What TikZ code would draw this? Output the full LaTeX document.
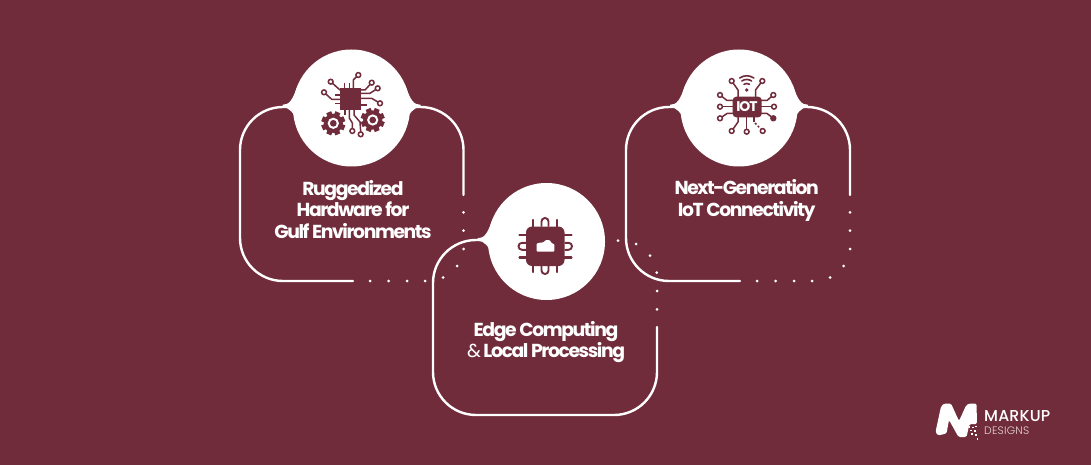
\documentclass[tikz,border=0pt]{standalone}
\usepackage{fontspec}
\setmainfont{Poppins}[LetterSpace=-7.5]
\newfontfamily\logofont{Poppins Medium}[LetterSpace=1]
\newfontfamily\logosmall{Poppins Light}[LetterSpace=2]
\definecolor{wine}{HTML}{702C3A}
\definecolor{pinkish}{HTML}{E8D5D9}
\tikzset{
  cardline/.style={draw=white,line width=2.4pt,line cap=round},
  label/.style={text=white,align=center,font=\bfseries\fontsize{18.8}{21.5}\selectfont,inner sep=0pt},
  trace/.style={draw=wine,line width=1.5pt,line join=round},
  pad/.style={draw=wine,line width=1.5pt,fill=white},
  pinline/.style={draw=wine,line width=2.2pt,line cap=round},
  looppin/.style={draw=wine,line width=1.9pt},
  wifi/.style={draw=wine,line width=1.6pt,line cap=round},
}
\newcommand{\leftfillet}[2]{%
  \fill[white] (#1-69,#2-3.2) .. controls (#1-62,#2-3.2) and (#1-59,#2-8) .. (#1-54,#2-22)
     -- (#1-54,#2+14) .. controls (#1-58,#2+5) and (#1-62,#2-0.8) .. (#1-69,#2-0.8) -- cycle;}
\newcommand{\rightfillet}[2]{%
  \fill[white] (#1+69,#2-3.2) .. controls (#1+62,#2-3.2) and (#1+59,#2-8) .. (#1+54,#2-22)
     -- (#1+54,#2+14) .. controls (#1+58,#2+5) and (#1+62,#2-0.8) .. (#1+69,#2-0.8) -- cycle;}
\newcommand{\dotsat}[1]{\foreach \px/\py in {#1} {\fill[white] (\px,\py) circle (1.5);}}
\newcommand{\gear}[3]{%
  \fill[wine] (#1,#2) circle ({#3*0.8});
  \foreach \a in {0,45,...,315}{
    \fill[wine,shift={(#1,#2)},rotate=\a+22.5] ({-#3*0.22},0) rectangle ({#3*0.22},#3);}
  \fill[white] (#1,#2) circle ({#3*0.47});
  \fill[wine] (#1,#2) circle ({#3*0.28});
  }
\begin{document}
\begin{tikzpicture}[x=1pt,y=-1pt]
\useasboundingbox (0,0) rectangle (1091,465);
\fill[wine] (0,0) rectangle (1091,465);

% left card
\draw[cardline] (463.5,195) -- (463.5,150) arc[start angle=0,end angle=-90,radius=43] -- (352,107);
\draw[cardline] (352,107) -- (283,107) arc[start angle=-90,end angle=-180,radius=43] -- (240,238)
   arc[start angle=180,end angle=90,radius=43] -- (353,281);
\dotsat{370/281, 388.5/281, 407/281, 425/281, 443/277.5, 457/266, 463.5/249, 463.5/230.7, 463.5/212.3}
\leftfillet{351.5}{108}\rightfillet{351.5}{108}
\fill[white] (351.5,108) circle (58.5);

% right card
\draw[cardline] (850,195) -- (850,150) arc[start angle=0,end angle=-90,radius=43] -- (739,107);
\draw[cardline] (739,107) -- (669,107) arc[start angle=-90,end angle=-180,radius=43] -- (626,238)
   arc[start angle=180,end angle=90,radius=43] -- (740,281);
\dotsat{757/281, 775.5/281, 794/281, 812/281, 830/277.5, 843.5/266, 850/249, 850/230.7, 850/212.3}
\leftfillet{739}{108}\rightfillet{739}{108}
\fill[white] (739,108) circle (58.5);

% middle card
\draw[cardline] (546,240) -- (476,240) arc[start angle=-90,end angle=-180,radius=43] -- (433,372)
   arc[start angle=180,end angle=90,radius=43] -- (614,415) arc[start angle=90,end angle=0,radius=43] -- (657,327);
\dotsat{657/309.3, 657/291, 656.7/272.7, 650/255.7, 636/244, 618/240.7}
\leftfillet{546.5}{241.5}
\fill[white] (546.5,241.5) circle (58.5);

% icon 1
\fill[wine] (340,88) rectangle (361,110);
\foreach \x in {344.3,349.3}{\draw[trace] (\x,82.7) -- (\x,88);}
\foreach \y in {95,103.3}{\draw[trace] (335,\y) -- (340,\y);}
\draw[trace] (358.3,75) -- (353.3,80) -- (353.3,88);
\draw[trace] (330.7,81.7) -- (340,90);
\draw[trace] (324,92.3) -- (331.7,99.3) -- (340,99.3);
\draw[trace] (371.7,82.7) -- (365,90) -- (361,90);
\draw[trace] (377.7,88.3) -- (370,93.3) -- (361,93.3);
\draw[trace] (380,103.3) -- (371.7,98.3) -- (361,98.3);
\draw[trace] (361,105) -- (367,105);
\draw[trace] (345,110) -- (345,115);
\draw[trace] (349.3,110) -- (349.3,118) -- (352.3,123) -- (352.3,129);
\draw[trace] (354,110) -- (354,115) -- (360,122) -- (360.7,132);
\draw[pad] (358.3,75) circle (2.4);
\draw[pad] (330.7,81.7) circle (2.4);
\draw[pad] (324,92.3) circle (2.4);
\draw[pad] (371.7,82.7) circle (2.4);
\draw[pad] (377.7,88.3) circle (2.4);
\draw[pad] (380,103.3) circle (2.4);
\draw[pad] (352.3,131) circle (2.4);
\draw[pad] (360.7,134.3) circle (2.4);
\gear{333.3}{123.3}{12}
\gear{372.7}{120}{12}

% icon 2 chip
\fill[wine,rounded corners=6] (526,226.5) rectangle (564.5,266);
\foreach \y in {235,257.5}{\draw[pinline] (519.5,\y) -- (571.5,\y);}
\foreach \x in {533.3,556.7}{\draw[pinline] (\x,220) -- (\x,272);}
\draw[looppin] (526,242.8) -- (522,242.8) arc[start angle=-90,end angle=-270,radius=3.5] -- (526,249.8);
\draw[looppin] (564.5,242.8) -- (568.5,242.8) arc[start angle=-90,end angle=90,radius=3.5] -- (564.5,249.8);
\draw[looppin] (541.5,226.5) -- (541.5,221.5) arc[start angle=180,end angle=360,radius=3.5] -- (548.5,226.5);
\draw[looppin] (541.5,266) -- (541.5,270.5) arc[start angle=180,end angle=0,radius=3.5] -- (548.5,266);
\fill[white,rounded corners=0.8] (536.7,251.7) -- (536.7,243.5) -- (540.5,242.5) -- (543,242.5) -- (546,240) -- (549.5,240) -- (552,243.5) -- (554.3,244) -- (554.3,251.7) -- cycle;

% icon 3
\fill[wine,rounded corners=3.5] (732.7,96.7) rectangle (761.7,117.3);
\node[text=white,font=\bfseries\fontsize{14}{14}\selectfont,inner sep=0pt] (iot) at (747,107) {IOT};
\draw[trace] (731.7,81) -- (738,90) -- (738,97);
\draw[trace] (762.3,81) -- (755.5,90) -- (755.5,97);
\draw[trace] (720,95) -- (727,100.5) -- (733,100.5);
\draw[trace] (720,106.7) -- (733,106.7);
\draw[trace] (720,118.3) -- (727,113.5) -- (733,113.5);
\draw[trace] (773.3,95) -- (767,100.5) -- (761,100.5);
\draw[trace] (774,106.7) -- (761,106.7);
\draw[trace] (773.3,118.3) -- (767,113.5) -- (761,113.5);
\draw[trace] (731.7,131) -- (738,122) -- (738,117);
\draw[trace] (746.7,131.7) -- (746.7,117);
\draw[trace] (754,117) -- (754,122);
\draw[trace,dash pattern=on 2pt off 2pt] (755,123) -- (762.7,131);
\draw[pad] (731.7,81) circle (2.4);
\draw[pad] (762.3,81) circle (2.4);
\draw[pad] (720,95) circle (2.4);
\draw[pad] (773.3,95) circle (2.4);
\draw[pad] (720,106.7) circle (2.4);
\draw[pad] (774,106.7) circle (2.4);
\draw[pad] (720,118.3) circle (2.4);
\fill[wine] (773.3,118.3) circle (3.2);
\draw[pad] (731.7,131) circle (2.4);
\draw[pad] (746.7,131.7) circle (2.4);
\draw[pad] (762.7,131) circle (2.4);
\fill[wine] (746.7,90) circle (1.8);
\draw[wifi] (739.7,78) arc[start angle=-125,end angle=-55,radius=12.3];
\draw[wifi] (741.8,81) arc[start angle=-125,end angle=-55,radius=8.5];
\draw[wifi] (744,84.3) arc[start angle=-125,end angle=-55,radius=4.7];

% labels
\node[label] (ruggedized) at (353,209.5) {Ruggedized\\Hardware for\\Gulf Environments};
\node[label] (edge) at (546,342) {Edge Computing\\{\mdseries\&} Local Processing};
\node[label] (next) at (746.7,200.5) {Next-Generation\\IoT Connectivity};

% logo
\fill[white,rounded corners=1.5] (935.5,432) -- (941,406.5) -- (944,403.5) -- (951,403.5) -- (959,421) -- (966,405.5) -- (969,403.5) -- (976.5,403.5) -- (977,424) -- (969.5,424) -- (966.5,437) -- (958.5,437) -- (949,420) -- (946.5,433.5) -- (938,435.5) -- cycle;
\foreach \px/\py in {968.5/426, 972/426.5, 975/425.5, 970/429.5, 974/430, 971/433, 975/434, 976.5/438}
  {\fill[white] (\px,\py) rectangle ++(1.8,1.8);}
\node[anchor=base west,text=white,font=\logofont\fontsize{15.8}{15.8}\selectfont,inner sep=0pt] (markup) at (984,421) {MARKUP};
\node[anchor=base west,text=pinkish,font=\logosmall\fontsize{10.8}{10.8}\selectfont,inner sep=0pt] (designs) at (984,434) {DESIGNS};
\end{tikzpicture}
\end{document}
